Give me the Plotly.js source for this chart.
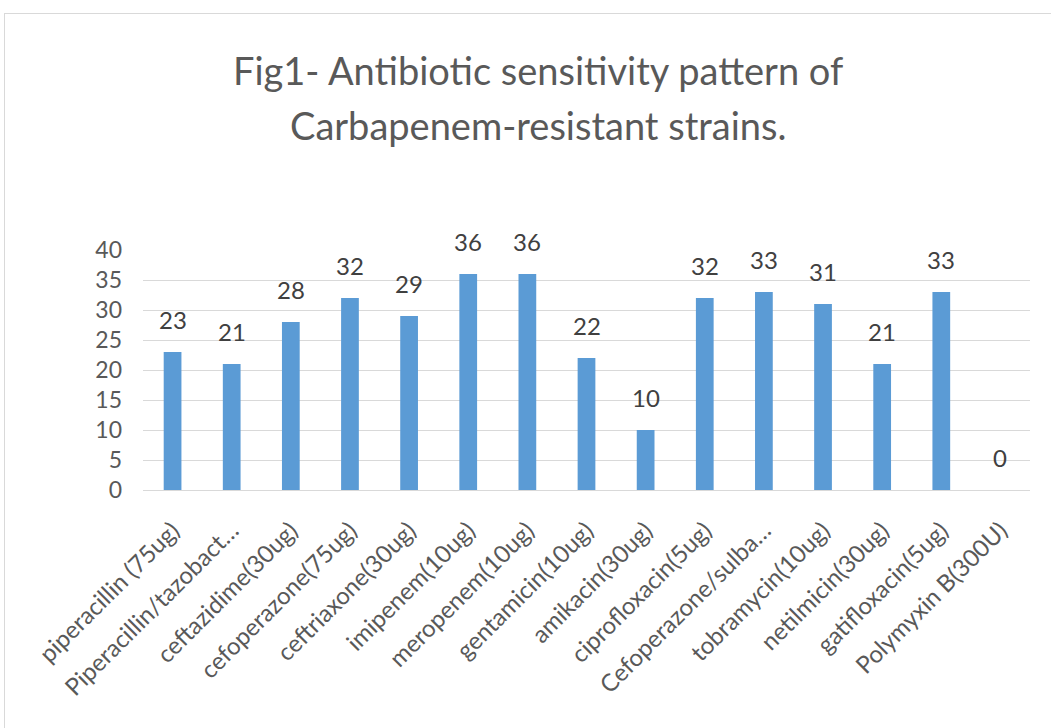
<!DOCTYPE html>
<html>
<head>
<meta charset="utf-8">
<script src="https://cdn.plot.ly/plotly-3.0.1.min.js"></script>
<style>
  html, body { margin: 0; padding: 0; background: #ffffff; }
  #wrap { position: relative; width: 1051px; height: 728px; }
  #chart { width: 1051px; height: 728px; }
  #frame { position: absolute; left: 4px; top: 13px; right: -2px; bottom: -2px;
           border: 1px solid #d9d9d9; pointer-events: none; }
</style>
</head>
<body>
<div id="wrap">
  <div id="chart"></div>
  <div id="frame"></div>
</div>
<script>
const categories = [
  "piperacillin (75ug)",
  "Piperacillin/tazobact…",
  "ceftazidime(30ug)",
  "cefoperazone(75ug)",
  "ceftriaxone(30ug)",
  "imipenem(10ug)",
  "meropenem(10ug)",
  "gentamicin(10ug)",
  "amikacin(30ug)",
  "ciprofloxacin(5ug)",
  "Cefoperazone/sulba…",
  "tobramycin(10ug)",
  "netilmicin(30ug)",
  "gatifloxacin(5ug)",
  "Polymyxin B(300U)"
];
const values = [23, 21, 28, 32, 29, 36, 36, 22, 10, 32, 33, 31, 21, 33, 0];
const yTicks = [0, 5, 10, 15, 20, 25, 30, 35, 40];
const titleLines = ["Fig1- Antibiotic sensitivity pattern of", "Carbapenem-resistant strains."];

const FONT = "Lato, 'Open Sans', sans-serif";
const TXT = "#595959";

const trace = {
  type: "bar",
  x: categories,
  y: values,
  marker: { color: "#5b9bd5" },
  hoverinfo: "x+y"
};

const labels = categories.map((c, i) => ({
  x: c, y: values[i], xref: "x", yref: "y",
  text: String(values[i]), showarrow: false,
  yanchor: "bottom", yshift: 16,
  font: { family: FONT, size: 24, color: "#404040" }
}));

// title lines (Excel-style two-line chart title, wider line spacing)
const titleAnns = titleLines.map((t, i) => ({
  text: t, showarrow: false,
  xref: "paper", yref: "paper",
  x: 0.445, xanchor: "center",
  y: 1 + (180 - 55 * i) / 240, yanchor: "middle",
  font: { family: FONT, size: 38, color: TXT }
}));

const layout = {
  width: 1051, height: 728,
  margin: { l: 143, r: 21, t: 250, b: 238 },
  paper_bgcolor: "#ffffff",
  plot_bgcolor: "#ffffff",
  showlegend: false,
  bargap: 0.7,
  xaxis: {
    type: "category",
    tickangle: -45,
    tickfont: { family: FONT, size: 24, color: TXT },
    showgrid: false,
    showline: true, linecolor: "#d9d9d9", linewidth: 1,
    ticks: "", ticklen: 0, ticklabelstandoff: 16
  },
  yaxis: {
    range: [0, 40],
    tickvals: yTicks,
    ticktext: yTicks.map(String),
    tickfont: { family: FONT, size: 23, color: TXT },
    showgrid: true, gridcolor: "#d9d9d9", gridwidth: 1,
    zeroline: false, showline: false,
    ticks: "", ticklabelstandoff: 20
  },
  annotations: titleAnns.concat(labels)
};

Plotly.newPlot("chart", [trace], layout, { displayModeBar: false, staticPlot: true });
</script>
</body>
</html>
